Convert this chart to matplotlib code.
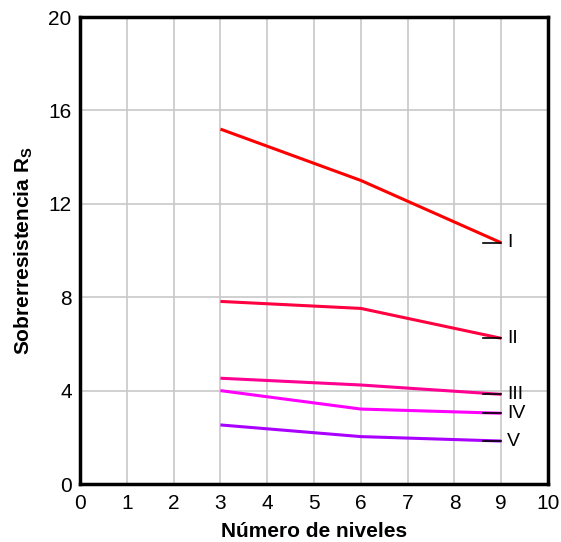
import matplotlib
matplotlib.use("Agg")
import matplotlib.pyplot as plt

plt.rcParams['font.family'] = ['Liberation Sans', 'DejaVu Sans']

niveles = [3, 6, 9]
serie_I = [15.2, 13.0, 10.33]
serie_II = [7.82, 7.52, 6.24]
serie_III = [4.53, 4.24, 3.84]
serie_IV = [4.0, 3.21, 3.03]
serie_V = [2.53, 2.03, 1.84]
nombres = ['I', 'II', 'III', 'IV', 'V']
colores = ['#ff0000', '#ff0040', '#ff0090', '#ff00ff', '#aa00ff']
x_ticks = list(range(0, 11))
y_ticks = [0, 4, 8, 12, 16, 20]

fig = plt.figure(figsize=(5.61, 5.42), dpi=100)
ax = fig.add_axes([0.1426, 0.107, 0.8344, 0.8616])

series = [serie_I, serie_II, serie_III, serie_IV, serie_V]
for vals, nom, col in zip(series, nombres, colores):
    ax.plot(niveles, vals, color=col, lw=2.2, solid_capstyle='butt', zorder=3)
    xe, ye = niveles[-1], vals[-1]
    ax.plot([xe - 0.38, xe], [ye, ye], color='black', lw=1.2, zorder=4)
    ax.text(xe + 0.12, ye, nom, fontsize=14, va='center', ha='left')

ax.set_xlim(0, 10)
ax.set_ylim(0, 20)
ax.set_xticks(x_ticks)
ax.set_yticks(y_ticks)
ax.tick_params(axis='x', length=0, labelsize=15, pad=7)
ax.tick_params(axis='y', length=0, labelsize=15, pad=6)
ax.grid(True, color='#c8c8c8', lw=1.2)
ax.set_axisbelow(True)
for s in ax.spines.values():
    s.set_linewidth(2.5)
    s.set_color('black')

ax.set_xlabel('Número de niveles', fontsize=15, fontweight='bold', labelpad=7)
ax.set_ylabel('Sobrerresistencia R$_\\mathregular{S}$', fontsize=15, fontweight='bold', labelpad=10)

fig.savefig('out.png', dpi=100)
